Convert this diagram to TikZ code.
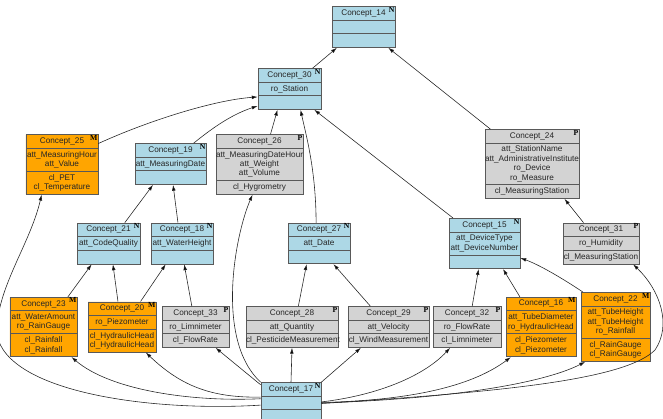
\documentclass[tikz,border=0pt]{standalone}
\usepackage{fontspec}
\setmainfont{Liberation Sans}
\newfontfamily\tagfont{Liberation Serif}
\usetikzlibrary{shapes.multipart, arrows.meta}
\definecolor{conceptblue}{RGB}{173,216,230}
\definecolor{conceptorange}{RGB}{255,165,0}
\definecolor{conceptgray}{RGB}{211,211,211}
\newcommand\blankrow{\rule[-1.5pt]{0pt}{6.5pt}}
\tikzset{
  concept/.style={rectangle split, rectangle split parts=3, draw=black!65, line width=0.6pt,
    text=black!85, inner xsep=0pt, inner ysep=2.3pt, align=center, font=\fontsize{7}{8}\selectfont},
  kindlabel/.style={anchor=north east, inner sep=0.6pt, text=black, font=\tagfont\bfseries\fontsize{6.6}{6.6}\selectfont},
  nconcept/.style={concept, fill=conceptblue, label={[kindlabel]north east:N}},
  mconcept/.style={concept, fill=conceptorange, label={[kindlabel]north east:M}},
  pconcept/.style={concept, fill=conceptgray, label={[kindlabel]north east:P}},
  link/.style={draw=black!85, line width=0.5pt, -{Latex[length=5pt,width=3.2pt]}},
}

\begin{document}
\begin{tikzpicture}[x=0.3mm, y=-0.3mm]
\useasboundingbox (0,0) rectangle (663,419);
\node[nconcept, text width=18.9mm] (c14) at (363.5,27) {Concept\_14\nodepart{two}\blankrow\nodepart{three}\blankrow};
\node[nconcept, text width=18.9mm] (c30) at (289.5,89) {Concept\_30\nodepart{two}ro\_Station\nodepart{three}\blankrow};
\node[mconcept, text width=21.6mm] (c25) at (62,164.5) {Concept\_25\nodepart{two}att\_MeasuringHour\\att\_Value\nodepart{three}cl\_PET\\cl\_Temperature};
\node[nconcept, text width=21.3mm] (c19) at (170.5,164) {Concept\_19\nodepart{two}att\_MeasuringDate\nodepart{three}\blankrow};
\node[pconcept, text width=26.1mm] (c26) at (259.5,164.5) {Concept\_26\nodepart{two}att\_MeasuringDateHour\\att\_Weight\\att\_Volume\nodepart{three}cl\_Hygrometry};
\node[pconcept, text width=28.2mm] (c24) at (532,164) {Concept\_24\nodepart{two}att\_StationName\\att\_AdministrativeInstitute\\ro\_Device\\ro\_Measure\nodepart{three}cl\_MeasuringStation};
\node[nconcept, text width=18.9mm] (c21) at (108.5,243.5) {Concept\_21\nodepart{two}att\_CodeQuality\nodepart{three}\blankrow};
\node[nconcept, text width=18.6mm] (c18) at (182,243.5) {Concept\_18\nodepart{two}att\_WaterHeight\nodepart{three}\blankrow};
\node[nconcept, text width=18.6mm] (c27) at (319,243.5) {Concept\_27\nodepart{two}att\_Date\nodepart{three}\blankrow};
\node[nconcept, text width=21.3mm] (c15) at (484.5,243.5) {Concept\_15\nodepart{two}att\_DeviceType\\att\_DeviceNumber\nodepart{three}\blankrow};
\node[pconcept, text width=22.8mm] (c31) at (601,243.5) {Concept\_31\nodepart{two}ro\_Humidity\nodepart{three}cl\_MeasuringStation};
\node[mconcept, text width=20.1mm] (c23) at (43.5,327) {Concept\_23\nodepart{two}att\_WaterAmount\\ro\_RainGauge\nodepart{three}cl\_Rainfall\\cl\_Rainfall};
\node[mconcept, text width=20.4mm] (c20) at (122,327) {Concept\_20\nodepart{two}ro\_Piezometer\nodepart{three}cl\_HydraulicHead\\cl\_HydraulicHead};
\node[pconcept, text width=20.1mm] (c33) at (195.5,327) {Concept\_33\nodepart{two}ro\_Limnimeter\nodepart{three}cl\_FlowRate};
\node[pconcept, text width=27.6mm] (c28) at (292,327) {Concept\_28\nodepart{two}att\_Quantity\nodepart{three}cl\_PesticideMeasurement};
\node[pconcept, text width=24.3mm] (c29) at (388.5,327) {Concept\_29\nodepart{two}att\_Velocity\nodepart{three}cl\_WindMeasurement};
\node[pconcept, text width=20.4mm] (c32) at (467,327) {Concept\_32\nodepart{two}ro\_FlowRate\nodepart{three}cl\_Limnimeter};
\node[mconcept, text width=21mm] (c16) at (541,327) {Concept\_16\nodepart{two}att\_TubeDiameter\\ro\_HydraulicHead\nodepart{three}cl\_Piezometer\\cl\_Piezometer};
\node[mconcept, text width=20.7mm] (c22) at (615.5,327) {Concept\_22\nodepart{two}att\_TubeHeight\\att\_TubeHeight\\ro\_Rainfall\nodepart{three}cl\_RainGauge\\cl\_RainGauge};
\node[nconcept, text width=18mm] (c17) at (291,403) {Concept\_17\nodepart{two}\blankrow\nodepart{three}\blankrow};
\draw[link] (c30.42) -- (c14.218);
\draw[link] (c24.140) -- (c14.-40);
\draw[link] (c25.30) .. controls (150,120) and (215,100) .. (c30.194);
\draw[link] (c19.42) .. controls (210,130) and (230,115) .. (c30.208);
\draw[link] (c26.70) -- (c30.240);
\draw[link] (c27.98) .. controls (316,170) and (306,135) .. (c30.-62);
\draw[link] (c15.141) -- (c30.-40);
\draw[link] (c21.52) -- (c19.230);
\draw[link] (c18.101) -- (c19.-83);
\draw[link] (c23.51) -- (c21.231);
\draw[link] (c20.99) -- (c21.-78);
\draw[link] (c20.54) -- (c18.232);
\draw[link] (c33.100) -- (c18.-84);
\draw[link] (c28.73) -- (c27.239);
\draw[link] (c29.131) -- (c27.-55);
\draw[link] (c32.76) -- (c15.257);
\draw[link] (c16.125) -- (c15.-54);
\draw[link] (c22.133) .. controls (565,280) and (540,265) .. (c15.-22);
\draw[link] (c31.130) -- (c24.-47);
\draw[link] (c17.north) -- (c28.south);
\draw[link] (c17.north east) -- (c29.217);
\draw[link] (c17.149) .. controls (245,372) and (228,358) .. (c33.-46);
\draw[link] (c17.north west) .. controls (215,340) and (235,235) .. (c26.257);
\draw[link] (c17.169) .. controls (210,398) and (180,385) .. (c20.-47);
\draw[link] (c17.172) .. controls (190,402) and (110,390) .. (c23.-47);
\draw[link] (c17.184) .. controls (150,412) and (8,392) .. (-3,335) .. controls (-5,290) and (30,245) .. (c25.236);
\draw[link] (c17.2) .. controls (380,395) and (425,375) .. (c32.231);
\draw[link] (c17.1) .. controls (430,400) and (480,380) .. (c16.225);
\draw[link] (c17.0) .. controls (470,398) and (550,380) .. (c22.229);
\draw[link] (c17.-1) .. controls (500,392) and (625,380) .. (655,350) .. controls (672,325) and (660,290) .. (c31.-33);
\end{tikzpicture}
\end{document}
